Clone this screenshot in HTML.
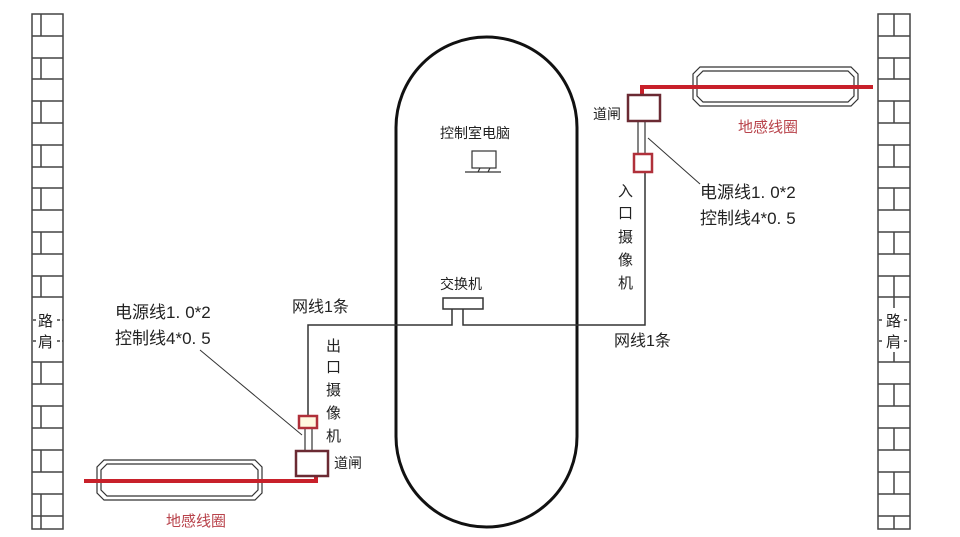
<!DOCTYPE html>
<html><head><meta charset="utf-8"><style>
html,body{margin:0;padding:0;background:#fff;}
svg{display:block;}
text{font-family:"Liberation Sans","Noto Sans CJK SC",sans-serif;}
.c{font-family:"Liberation Serif","Noto Serif CJK SC",serif;}
</style></head><body>
<svg width="960" height="537" viewBox="0 0 960 537" xmlns="http://www.w3.org/2000/svg">
<g stroke="#444" stroke-width="1.5" fill="none">
<rect x="32" y="14" width="31" height="515"/>
<path d="M32 36H63M32 58H63M32 79H63M32 101H63M32 123H63M32 145H63M32 167H63M32 188H63M32 210H63M32 232H63M32 254H63M32 276H63M32 297H63M32 362H63M32 384H63M32 406H63M32 428H63M32 450H63M32 472H63M32 494H63M32 516H63"/>
<path d="M41 14V36M41 58V79M41 101V123M41 145V167M41 188V210M41 232V254M41 276V297M41 362V384M41 406V428M41 450V472M41 494V516M41 516V529"/>
<rect x="878" y="14" width="32" height="515"/>
<path d="M878 36H910M878 58H910M878 79H910M878 101H910M878 123H910M878 145H910M878 167H910M878 188H910M878 210H910M878 232H910M878 254H910M878 276H910M878 297H910M878 362H910M878 384H910M878 406H910M878 428H910M878 450H910M878 472H910M878 494H910M878 516H910"/>
<path d="M894 14V36M894 58V79M894 101V123M894 145V167M894 188V210M894 232V254M894 276V297M894 297V308M894 352V362M894 384V406M894 428V450M894 472V494M894 516V529"/>
<path d="M33 320H38M57 320H63M33 341H38M57 341H63M879 320H884M904 320H909M879 341H884M904 341H909" stroke-dasharray="3,2"/>
</g>
<g font-size="15" fill="#222">
<text x="38" y="326">路</text><text x="38" y="347">肩</text>
<text x="886" y="326">路</text><text x="886" y="347">肩</text>
</g>
<rect x="396" y="37" width="181" height="490" rx="90.5" ry="90.5" fill="none" stroke="#111" stroke-width="3"/>
<g stroke="#333" stroke-width="1.5" fill="none">
<rect x="443" y="298" width="40" height="11"/>
<path d="M452 309V325H308V416"/>
<path d="M463 309V325H645V172"/>
<rect x="472" y="151" width="24" height="17" stroke-width="1.2"/>
<path d="M465 172H501M480 168L478 172M490 168L488 172" stroke-width="1.2"/>
<path d="M200 350L302 435" stroke-width="1"/>
<path d="M648 138L700 184" stroke-width="1"/>
<path d="M305 428V451M312 428V451" stroke-width="1.2"/>
<path d="M638 121V154M645 121V154" stroke-width="1.2"/>
<path d="M104 460H255L262 467V493L255 500H104L97 493V467Z" stroke-width="1.2"/>
<path d="M107 464H252L258 470V490L252 496H107L101 490V470Z" stroke-width="1.2"/>
<path d="M700 67H851L858 74V99L851 106H700L693 99V74Z" stroke-width="1.2"/>
<path d="M703 71H848L854 77V96L848 102H703L697 96V77Z" stroke-width="1.2"/>
</g>
<g stroke="#c8202a" stroke-width="4" fill="none">
<path d="M84 481H316V474"/>
<path d="M642 95V87H873"/>
</g>
<g fill="#fff" stroke="#6b2a33" stroke-width="2.5">
<rect x="296" y="451" width="32" height="25"/>
<rect x="628" y="95" width="32" height="26"/>
<rect x="299" y="416" width="18" height="12" fill="#fff8e0" stroke="#b0303a"/>
<rect x="634" y="154" width="18" height="18" stroke="#b0303a"/>
</g>
<g fill="#222">
<text x="440" y="138" font-size="14">控制室电脑</text>
<text x="440" y="289" font-size="14">交换机</text>
<text x="292" y="312" font-size="16">网线1条</text>
<text x="614" y="346" font-size="16">网线1条</text>
<text x="334" y="468" font-size="14">道闸</text>
<text x="593" y="119" font-size="14">道闸</text>
<g font-size="17" class="c">
<text x="700" y="198">电源线1.<tspan dx="5">0*2</tspan></text>
<text x="700" y="224">控制线4*0.<tspan dx="5">5</tspan></text>
<text x="115" y="318">电源线1.<tspan dx="5">0*2</tspan></text>
<text x="115" y="344">控制线4*0.<tspan dx="5">5</tspan></text>
</g>
<g font-size="15">
<text x="618" y="196">入</text><text x="618" y="218">口</text><text x="618" y="242">摄</text><text x="618" y="265">像</text><text x="618" y="288">机</text>
<text x="326" y="351">出</text><text x="326" y="372">口</text><text x="326" y="395">摄</text><text x="326" y="418">像</text><text x="326" y="441">机</text>
</g>
</g>
<g fill="#b8424a" font-size="15">
<text x="738" y="132">地感线圈</text>
<text x="166" y="526">地感线圈</text>
</g>
</svg>
</body></html>
